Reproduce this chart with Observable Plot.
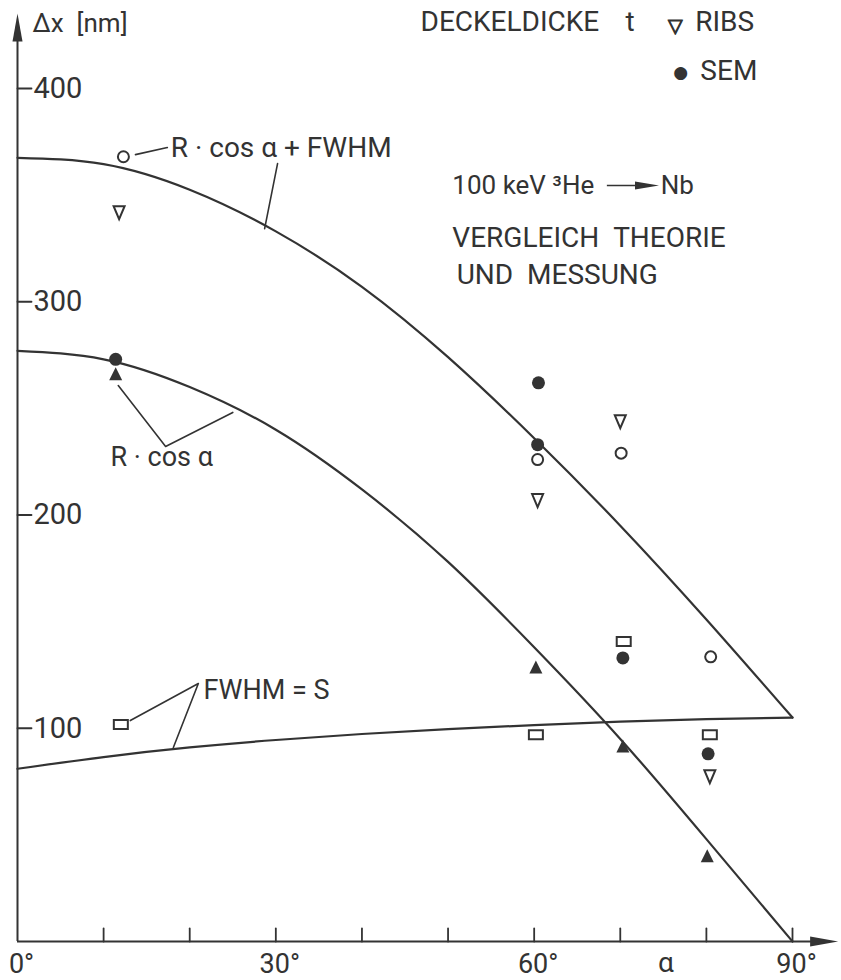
<!DOCTYPE html>
<html>
<head>
<meta charset="utf-8">
<script src="https://cdn.jsdelivr.net/npm/d3@7"></script>
<script src="https://cdn.jsdelivr.net/npm/@observablehq/plot@0.6"></script>
<style>
  html, body { margin: 0; padding: 0; background: #fff; }
  svg { display: block; }
</style>
</head>
<body>
<div id="chart"></div>
<script>
// Cover thickness Δx versus tilt angle α: theory curves and measurements
const angles = [0, 10, 20, 30, 40, 50, 60, 70, 80, 90];
const sumCurve = [367.5, 364.5, 352.5, 333, 307, 274, 236, 195, 151, 105];     // R·cos α + FWHM
const rCosCurve = [277, 273, 260, 240, 212, 178, 138, 95, 48, 0];              // R·cos α
const fwhmCurve = [81, 86.5, 91, 94.5, 97.3, 99.6, 101.5, 103.1, 104.3, 105];  // FWHM = S

// measured points
const sumPtAngles = [12.3, 60.4, 70.1, 80.5];
const sumPtValues = [368, 226, 229, 133.5];
const ribsAngles = [11.8, 60.4, 70.0, 80.4];
const ribsValues = [342, 207, 244, 77.5];
const semAngles = [11.4, 60.5, 60.4, 70.3, 80.2];
const semValues = [273, 262, 233, 133, 88];
const rCosPtAngles = [11.4, 60.2, 70.3, 80.1];
const rCosPtValues = [266, 128.5, 91.5, 40];
const fwhmPtAngles = [12.0, 60.2, 70.4, 80.4];
const fwhmPtValues = [101.8, 97, 140.7, 97];

// axis ticks
const yTickValues = [100, 200, 300, 400];
const xTickValues = [10, 20, 30, 40, 50, 60, 70, 80, 90];
const xLabelValues = [0, 30, 60, 90];

const ink = "#333";
const font = "Roboto, 'DejaVu Sans', sans-serif";
const gap = "\u00A0\u00A0";

const curve = (ys) => angles.map((a, i) => ({a, v: ys[i]}));
const pts = (xs, ys) => xs.map((a, i) => ({a, v: ys[i]}));

// custom glyphs
const triDown = {draw(c) { c.moveTo(-5.5, -6); c.lineTo(5.5, -6); c.lineTo(0, 7); c.closePath(); }};
const triUp = {draw(c) { c.moveTo(0, -7); c.lineTo(6.5, 6); c.lineTo(-6.5, 6); c.closePath(); }};
const box = {draw(c) { c.rect(-7, -4.5, 14, 9); }};
const axisHead = {draw(c) { c.moveTo(0, 0); c.lineTo(5, 28); c.lineTo(-5, 28); c.closePath(); }};
const beamHead = {draw(c) { c.moveTo(0, 0); c.lineTo(4, 24); c.lineTo(-4, 24); c.closePath(); }};
const tickShape = {draw(c, l) { c.moveTo(0, 0); c.lineTo(0, -l); }};

const note = (t, x, y, size, extra = {}) =>
  Plot.text([{x, y, t}], {x: "x", y: "y", text: "t", fontSize: size, textAnchor: "start",
    lineAnchor: "middle", fill: ink, ...extra});
const leader = (coords) =>
  Plot.line(coords, {x: d => d[0], y: d => d[1], stroke: ink, strokeWidth: 1.6});

const chart = Plot.plot({
  width: 841,
  height: 980,
  marginLeft: 17,
  marginRight: 49,
  marginTop: 88,
  marginBottom: 39,
  x: {domain: [0, 90], axis: null},
  y: {domain: [0, 400], axis: null},
  style: {fontFamily: font, color: ink, background: "#fff"},
  marks: [
    // axes with arrowheads
    Plot.ruleX([0], {y1: 0, y2: 428, stroke: ink, strokeWidth: 2}),
    Plot.ruleY([0], {x1: 0, x2: 93, stroke: ink, strokeWidth: 2}),
    Plot.dot([0], {x: 0, y: 435.2, symbol: axisHead, fill: ink, stroke: "none"}),
    Plot.dot([0], {x: 95.3, y: 0, symbol: axisHead, rotate: 90, fill: ink, stroke: "none"}),
    Plot.vector(yTickValues, {x: 0, y: d => d, length: 14, rotate: 90, anchor: "start",
      shape: tickShape, stroke: ink, strokeWidth: 1.8}),
    Plot.vector(xTickValues, {x: d => d, y: 0, length: 13, rotate: 0, anchor: "start",
      shape: tickShape, stroke: ink, strokeWidth: 1.8}),
    Plot.text(yTickValues, {x: 0, y: d => d, text: d => String(d), dx: 16, textAnchor: "start",
      fontSize: 29, fill: ink}),
    Plot.text(xLabelValues, {x: d => d, y: 0, text: d => `${d}°`, dx: 4, dy: 23,
      fontSize: 27, fill: ink}),
    Plot.text(["α"], {x: 75.3, y: 0, text: d => d, dy: 22, fontSize: 28, fill: ink}),
    note(`Δx${gap}[nm]`, 1.74, 430.5, 26),

    // theory curves
    Plot.line(curve(sumCurve), {x: "a", y: "v", curve: "natural", stroke: ink, strokeWidth: 2.2}),
    Plot.line(curve(rCosCurve), {x: "a", y: "v", curve: "natural", stroke: ink, strokeWidth: 2.2}),
    Plot.line(curve(fwhmCurve), {x: "a", y: "v", curve: "natural", stroke: ink, strokeWidth: 2.2}),

    // measurements
    Plot.dot(pts(fwhmPtAngles, fwhmPtValues), {x: "a", y: "v", symbol: box, fill: "#fff", stroke: ink, strokeWidth: 2}),
    Plot.dot(pts(rCosPtAngles, rCosPtValues), {x: "a", y: "v", symbol: triUp, fill: ink, stroke: "none"}),
    Plot.dot(pts(sumPtAngles, sumPtValues), {x: "a", y: "v", r: 5.5, fill: "#fff", stroke: ink, strokeWidth: 2}),
    Plot.dot(pts(ribsAngles, ribsValues), {x: "a", y: "v", symbol: triDown, fill: "#fff", stroke: ink, strokeWidth: 2}),
    Plot.dot(pts(semAngles, semValues), {x: "a", y: "v", r: 6.5, fill: ink, stroke: "none"}),

    // curve labels and leaders
    note("R · cos α + FWHM", 17.8, 372.3, 28),
    leader([[13.7, 369.0], [17.4, 372.3]]),
    leader([[30.2, 364.8], [28.7, 334.3]]),
    note("R · cos α", 10.8, 227, 27),
    leader([[11.7, 260.7], [17.2, 232.1], [25.0, 248.1]]),
    note("FWHM = S", 21.6, 117.7, 27),
    leader([[13.1, 103.6], [21.0, 121.0], [18.1, 91.0]]),

    // header: legend and experiment
    note("DECKELDICKE", 46.8, 431, 28),
    note("t", 70.6, 431, 28),
    note("▽", 76.4, 429.5, 19, {textAnchor: "middle", fontFamily: "'DejaVu Sans'", strokeWidth: 1, stroke: ink}),
    note("RIBS", 78.7, 431, 28),
    note("●", 77.0, 407.5, 17, {textAnchor: "middle", fontFamily: "'DejaVu Sans'"}),
    note("SEM", 79.3, 408.4, 28),
    note("100 keV ³He", 50.5, 354.5, 26),
    Plot.ruleY([354.5], {x1: 68.5, x2: 72.6, stroke: ink, strokeWidth: 1.6}),
    Plot.dot([0], {x: 74.5, y: 354.5, symbol: beamHead, rotate: 90, fill: ink, stroke: "none"}),
    note("Nb", 74.7, 354.5, 26),
    note(`VERGLEICH${gap}THEORIE`, 50.5, 330, 28),
    note(`UND${gap}MESSUNG`, 51.0, 312.3, 28)
  ]
});

document.getElementById("chart").appendChild(chart);
</script>
</body>
</html>
